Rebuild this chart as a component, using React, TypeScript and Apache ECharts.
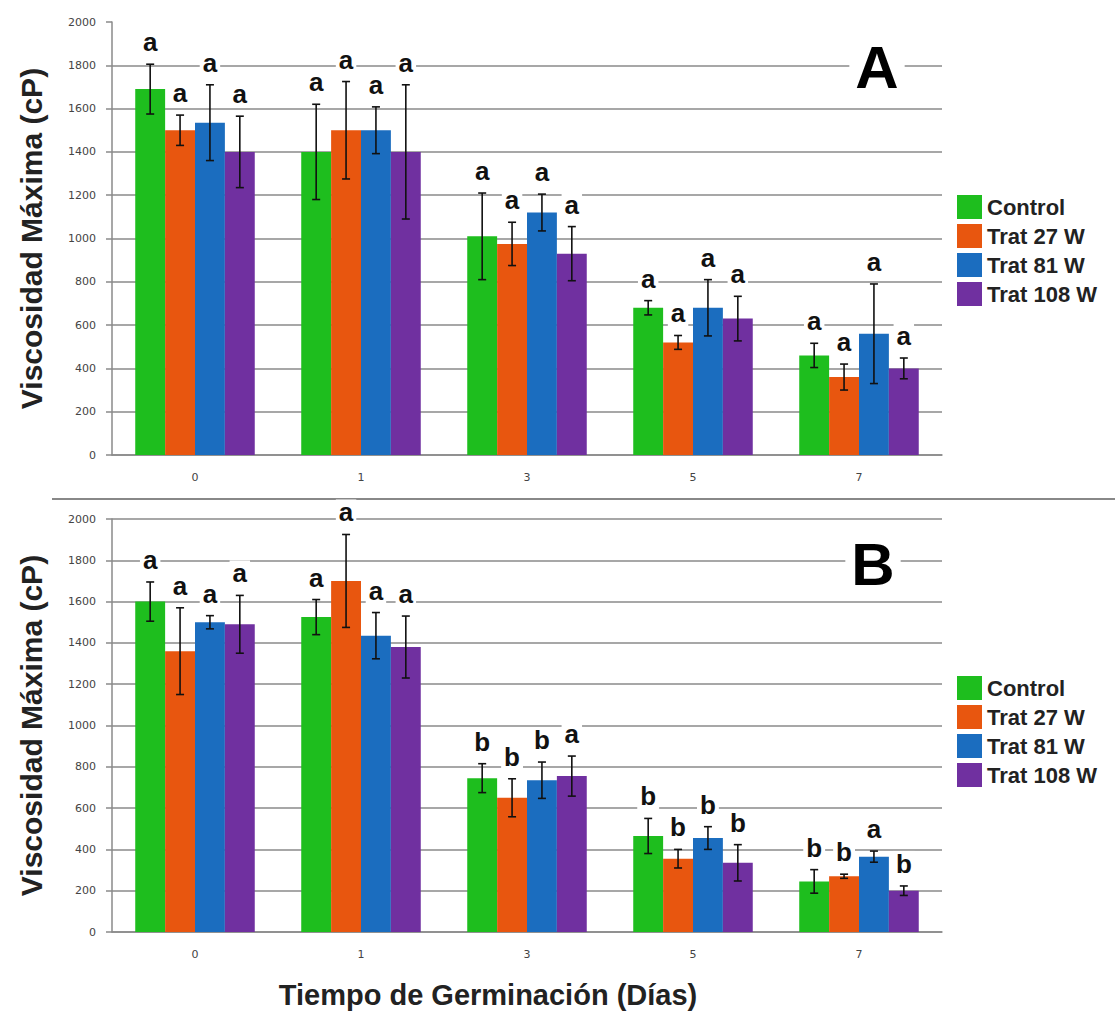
import React, { useEffect, useRef } from "react";
import * as echarts from "echarts";

const categories = ["0", "1", "3", "5", "7"];
const seriesNames = ["Control", "Trat 27 W", "Trat 81 W", "Trat 108 W"];
const colors = ["#1EBE1E", "#E8560F", "#1B6DBF", "#7030A0"];
const yTicks = [0, 200, 400, 600, 800, 1000, 1200, 1400, 1600, 1800, 2000];

// Panel A
const aControl = [1690, 1400, 1010, 680, 460];
const aT27 = [1500, 1500, 975, 520, 360];
const aT81 = [1535, 1500, 1120, 680, 560];
const aT108 = [1400, 1400, 930, 630, 400];
const aControlErr = [115, 220, 200, 33, 56];
const aT27Err = [70, 225, 100, 32, 60];
const aT81Err = [175, 108, 85, 130, 230];
const aT108Err = [165, 310, 125, 103, 48];
const aControlLet = ["a", "a", "a", "a", "a"];
const aT27Let = ["a", "a", "a", "a", "a"];
const aT81Let = ["a", "a", "a", "a", "a"];
const aT108Let = ["a", "a", "a", "a", "a"];

// Panel B
const bControl = [1600, 1525, 745, 465, 245];
const bT27 = [1360, 1700, 650, 355, 270];
const bT81 = [1500, 1435, 735, 455, 365];
const bT108 = [1490, 1380, 755, 335, 200];
const bControlErr = [95, 85, 70, 85, 57];
const bT27Err = [210, 225, 92, 45, 10];
const bT81Err = [32, 112, 88, 55, 27];
const bT108Err = [140, 150, 97, 88, 23];
const bControlLet = ["a", "a", "b", "b", "b"];
const bT27Let = ["a", "a", "b", "b", "b"];
const bT81Let = ["a", "a", "b", "b", "a"];
const bT108Let = ["a", "a", "a", "b", "b"];

const FONT = "Liberation Sans, Arial, sans-serif";

function buildErr(vals: number[][], errs: number[][], lets: string[][]) {
  const data: number[][] = [];
  const letters: string[] = [];
  for (let si = 0; si < vals.length; si++) {
    for (let ci = 0; ci < categories.length; ci++) {
      data.push([ci, vals[si][ci], errs[si][ci], si]);
      letters.push(lets[si][ci]);
    }
  }
  return { data, letters };
}

function makeRender(letters: string[]) {
  return (params: any, api: any) => {
    const ci = api.value(0);
    const v = api.value(1);
    const e = api.value(2);
    const si = api.value(3);
    const bandW = api.size([1, 0])[0];
    const barW = (bandW * 0.72) / 4;
    const c = api.coord([ci, v]);
    const x = c[0] - bandW * 0.36 + (si + 0.5) * barW;
    const yt = api.coord([ci, v + e])[1];
    const yb = api.coord([ci, v - e])[1];
    const cap = 4;
    const st = { stroke: "#111", lineWidth: 1.6 };
    return {
      type: "group",
      children: [
        { type: "line", shape: { x1: x, y1: yt, x2: x, y2: yb }, style: st },
        { type: "line", shape: { x1: x - cap, y1: yt, x2: x + cap, y2: yt }, style: st },
        { type: "line", shape: { x1: x - cap, y1: yb, x2: x + cap, y2: yb }, style: st },
        {
          type: "text",
          x: x,
          y: yt - 9,
          style: {
            text: letters[params.dataIndex],
            fontSize: 26,
            fontWeight: "bold",
            fontFamily: FONT,
            fill: "#111",
            align: "center",
            verticalAlign: "bottom",
            backgroundColor: "#fff",
            padding: [0, 3, 0, 3],
          },
        },
      ],
    };
  };
}

export default function App() {
  const ref = useRef<HTMLDivElement>(null);
  useEffect(() => {
    if (!ref.current) return;
    const chart = echarts.init(ref.current, undefined, { renderer: "svg" });

    const aVals = [aControl, aT27, aT81, aT108];
    const bVals = [bControl, bT27, bT81, bT108];
    const aE = buildErr(aVals, [aControlErr, aT27Err, aT81Err, aT108Err], [aControlLet, aT27Let, aT81Let, aT108Let]);
    const bE = buildErr(bVals, [bControlErr, bT27Err, bT81Err, bT108Err], [bControlLet, bT27Let, bT81Let, bT108Let]);

    const gridColor = "#8a8a8a";
    const xAxisBase = (gi: number) => ({
      type: "category",
      gridIndex: gi,
      data: categories,
      axisTick: { show: false },
      axisLine: { lineStyle: { color: gridColor, width: 1.5 } },
      axisLabel: { fontSize: 11, color: "#444", margin: 17, fontFamily: "DejaVu Sans" },
    });
    const yAxisBase = (gi: number, hideTop: boolean) => ({
      type: "value",
      gridIndex: gi,
      min: yTicks[0],
      max: yTicks[yTicks.length - 1],
      interval: yTicks[1] - yTicks[0],
      name: "Viscosidad Máxima (cP)",
      nameLocation: "middle",
      nameGap: 66,
      nameTextStyle: { fontSize: 30, fontWeight: "bold", color: "#222", fontFamily: FONT },
      axisLine: { show: true, lineStyle: { color: gridColor, width: 1.5 } },
      axisTick: { show: true, length: 6, lineStyle: { color: gridColor, width: 1.5 } },
      axisLabel: {
        fontSize: 11,
        color: "#444",
        margin: 16,
        fontFamily: "DejaVu Sans",
        formatter: (v: number) => String(v),
      },
      splitLine: {
        show: true,
        lineStyle: {
          color: yTicks.map((_, i) => (hideTop && i === yTicks.length - 1 ? "rgba(0,0,0,0)" : gridColor)),
          width: 1.5,
        },
      },
    });

    const bars: any[] = [];
    [aVals, bVals].forEach((vals, gi) => {
      vals.forEach((arr, si) => {
        bars.push({
          type: "bar",
          name: seriesNames[si],
          xAxisIndex: gi,
          yAxisIndex: gi,
          data: arr,
          barGap: "0%",
          barCategoryGap: "28%",
          itemStyle: { color: colors[si] },
        });
      });
    });

    const legendBase = (top: number) => ({
      orient: "vertical",
      left: 957,
      top,
      padding: 0,
      itemWidth: 25,
      itemHeight: 24,
      itemGap: 5,
      icon: "rect",
      data: seriesNames,
      textStyle: { fontSize: 22, fontWeight: "bold", color: "#222", fontFamily: FONT },
    });

    chart.setOption({
      animation: false,
      textStyle: { fontFamily: FONT },
      color: colors,
      grid: [
        { left: 112, top: 22, width: 830, height: 433 },
        { left: 112, top: 519, width: 830, height: 413 },
      ],
      xAxis: [xAxisBase(0), xAxisBase(1)],
      yAxis: [yAxisBase(0, true), yAxisBase(1, false)],
      legend: [legendBase(195), legendBase(676)],
      series: [
        ...bars,
        {
          type: "custom",
          xAxisIndex: 0,
          yAxisIndex: 0,
          data: aE.data,
          renderItem: makeRender(aE.letters),
          z: 5,
        },
        {
          type: "custom",
          xAxisIndex: 1,
          yAxisIndex: 1,
          data: bE.data,
          renderItem: makeRender(bE.letters),
          z: 5,
        },
      ],
      graphic: [
        {
          type: "line",
          shape: { x1: 52, y1: 499, x2: 1115, y2: 499 },
          style: { stroke: "#888", lineWidth: 2 },
        },
        {
          type: "text",
          x: 877,
          y: 67,
          z: 10,
          style: {
            text: "A",
            fontSize: 60,
            fontWeight: "bold",
            fontFamily: FONT,
            fill: "#000",
            align: "center",
            verticalAlign: "middle",
            backgroundColor: "#fff",
            padding: [0, 6, 0, 6],
          },
        },
        {
          type: "text",
          x: 873,
          y: 564,
          z: 10,
          style: {
            text: "B",
            fontSize: 60,
            fontWeight: "bold",
            fontFamily: FONT,
            fill: "#000",
            align: "center",
            verticalAlign: "middle",
            backgroundColor: "#fff",
            padding: [0, 6, 0, 6],
          },
        },
        {
          type: "text",
          x: 488,
          y: 995,
          style: {
            text: "Tiempo de Germinación (Días)",
            fontSize: 29,
            fontWeight: "bold",
            fontFamily: FONT,
            fill: "#222",
            align: "center",
            verticalAlign: "middle",
          },
        },
      ],
    });
    return () => chart.dispose();
  }, []);
  return (
    <div
      ref={ref}
      style={{ position: "fixed", left: 0, top: 0, width: 1115, height: 1015, background: "#fff" }}
    />
  );
}
